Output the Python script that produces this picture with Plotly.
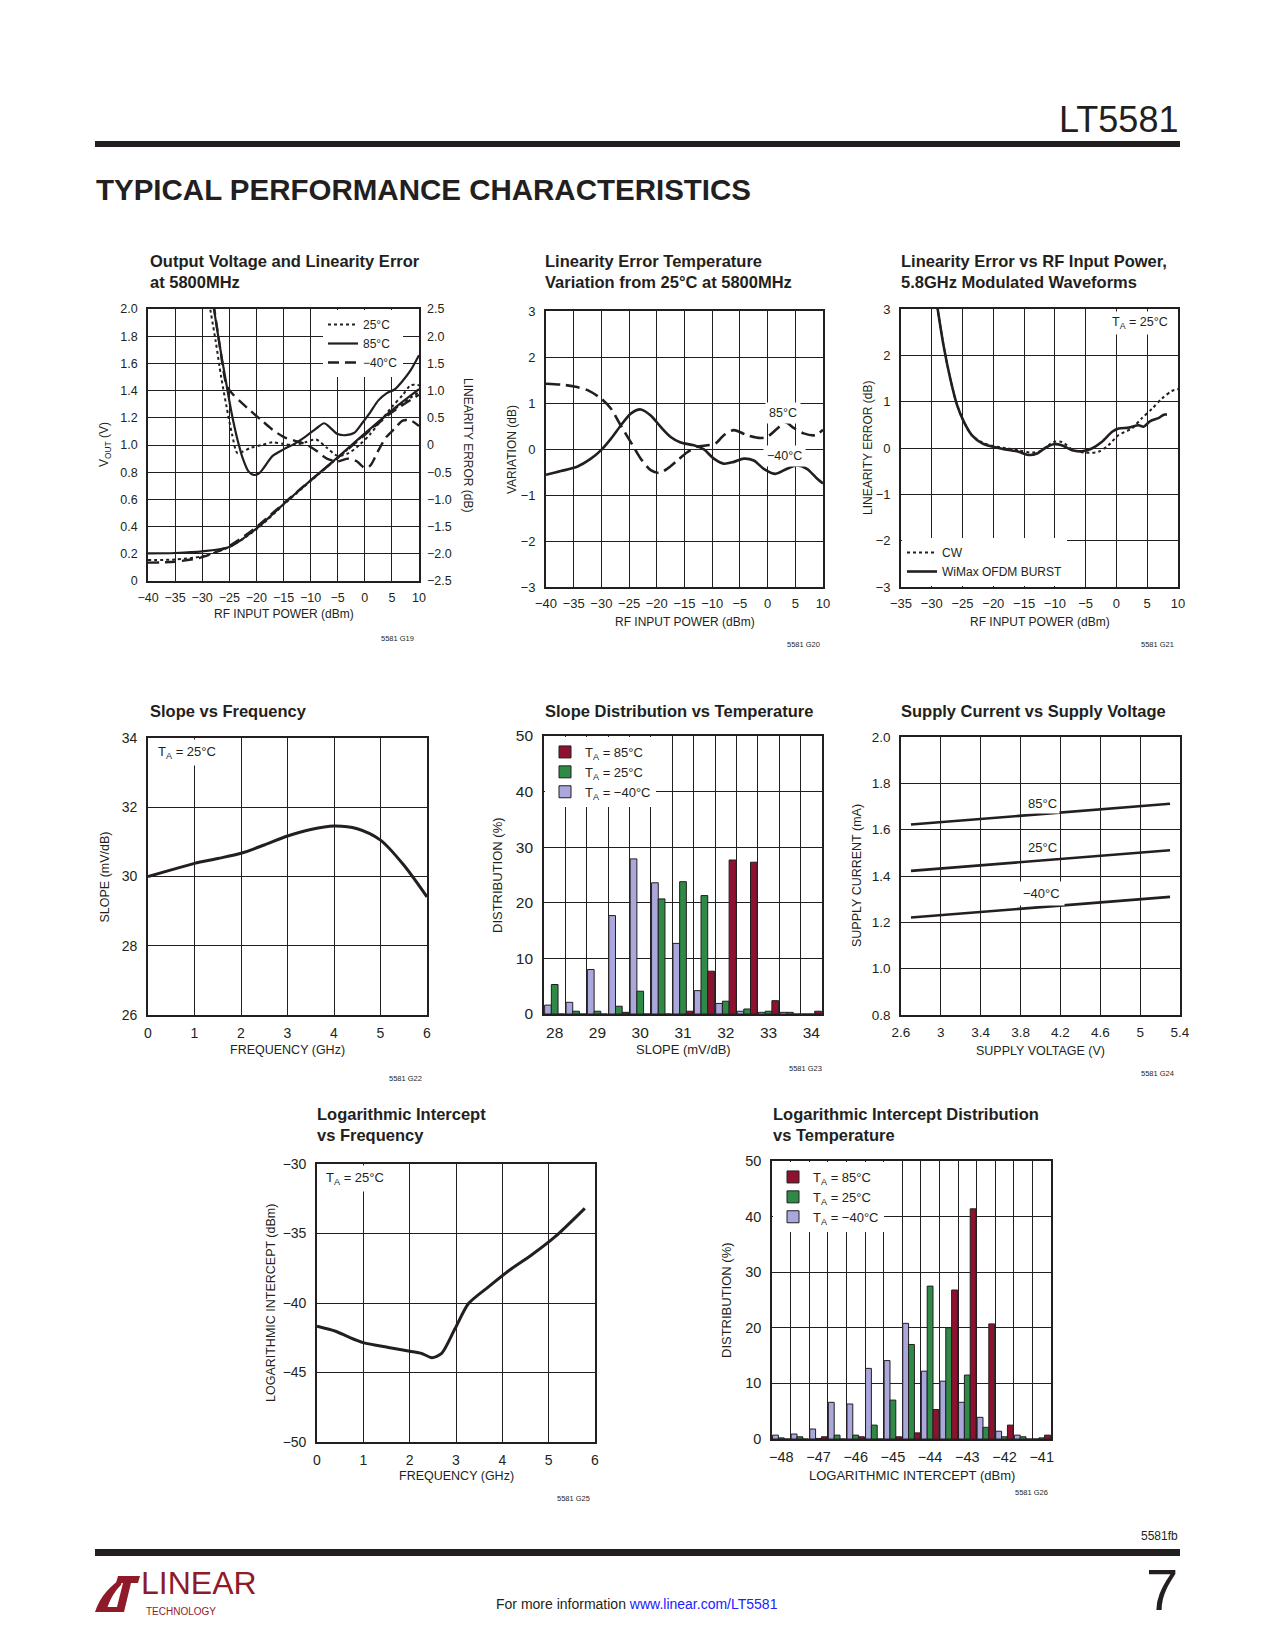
import plotly.graph_objects as go

W, H = 1275, 1650
OFF = 8  # page body margin of the html page
FONT = "'Liberation Sans', Arial, Helvetica, sans-serif"
INK = "#231f20"
RED = "#8e1230"
GREEN = "#2f8a47"
LAV = "#aaa7dc"
LINK = "#2020ff"

# ---------------- G19: Output Voltage and Linearity Error ----------------
g19_pin = [-40, -35, -30, -25, -20, -15, -10, -5, 0, 5, 10]
g19_vout_25 = [0.155, 0.158, 0.182, 0.25, 0.38, 0.56, 0.735, 0.905, 1.08, 1.25, 1.39]
g19_vout_85 = [0.203, 0.206, 0.218, 0.25, 0.385, 0.565, 0.74, 0.91, 1.085, 1.255, 1.41]
g19_vout_m40 = [0.135, 0.142, 0.175, 0.258, 0.397, 0.57, 0.74, 0.905, 1.075, 1.24, 1.37]

g19_err85_pin = [-28.0, -26.8, -25.5, -24.5, -23.5, -22.5, -21.5, -20.5, -19.5, -18.5, -17, -15, -13, -11, -9, -7.5, -6.5, -5, -3.5, -2, -0.5, 1, 2.5, 4, 5.5, 7, 8.5, 10]
g19_err85 = [2.6, 1.85, 1.1, 0.55, 0.1, -0.25, -0.48, -0.55, -0.52, -0.4, -0.2, -0.08, 0.02, 0.15, 0.3, 0.4, 0.33, 0.2, 0.18, 0.22, 0.4, 0.6, 0.82, 0.95, 1.02, 1.18, 1.38, 1.65]
g19_err25_pin = [-28.7, -27.5, -26.5, -25.5, -24.5, -23.5, -22.5, -21, -19, -17, -15, -13, -11, -9, -7, -5, -3, -1, 1, 3, 5, 7, 8.5, 10]
g19_err25 = [2.6, 1.9, 1.25, 0.7, 0.2, -0.15, -0.12, -0.05, 0.0, 0.05, 0.02, 0.0, 0.05, 0.1, -0.05, -0.2, -0.15, 0.0, 0.2, 0.45, 0.7, 0.92, 1.1, 1.1]
g19_errm40_pin = [-27.9, -26.8, -25.5, -24.5, -23, -21, -19, -17, -15, -13, -11, -9, -7, -5, -3, -1.5, 0, 1, 2.5, 4, 5.5, 7, 8.5, 10]
g19_errm40 = [2.6, 1.85, 1.1, 0.95, 0.8, 0.62, 0.45, 0.28, 0.15, 0.08, 0.02, -0.1, -0.25, -0.3, -0.25, -0.3, -0.42, -0.38, -0.1, 0.15, 0.3, 0.45, 0.45, 0.35]
g19_left_ticks = [0, 0.2, 0.4, 0.6, 0.8, 1.0, 1.2, 1.4, 1.6, 1.8, 2.0]
g19_left_text = ["0", "0.2", "0.4", "0.6", "0.8", "1.0", "1.2", "1.4", "1.6", "1.8", "2.0"]
g19_right_ticks = [-2.5, -2.0, -1.5, -1.0, -0.5, 0, 0.5, 1.0, 1.5, 2.0, 2.5]
g19_right_text = ["\u22122.5", "\u22122.0", "\u22121.5", "\u22121.0", "\u22120.5", "0", "0.5", "1.0", "1.5", "2.0", "2.5"]

# ---------------- G20: Linearity Error Temperature Variation ----------------
g20_a_pin = [-40, -37.3, -34.9, -32.5, -30.1, -28.3, -26.5, -24.7, -22.9, -21.1, -19.6, -18.1, -16.3, -14.5, -12.7, -10.9, -9.4, -7.9, -6.1, -3.7, -1.3, 0, 1.7, 3.2, 4.7, 6.5, 8.6, 10]
g20_a_var = [1.42, 1.40, 1.36, 1.28, 1.10, 0.88, 0.51, 0.15, -0.21, -0.46, -0.52, -0.43, -0.25, -0.07, 0.05, 0.08, 0.12, 0.30, 0.41, 0.30, 0.24, 0.27, 0.44, 0.58, 0.46, 0.34, 0.30, 0.42]
g20_b_pin = [-40, -37.3, -34.3, -31.9, -30.1, -28.3, -26.5, -24.7, -22.9, -21.1, -19.3, -17.5, -15.7, -13.3, -11.5, -9.7, -7.9, -6.1, -4.3, -2.5, -0.7, 1.4, 3.5, 5.3, 7.1, 8.9, 10]
g20_b_var = [-0.56, -0.48, -0.38, -0.21, -0.03, 0.22, 0.51, 0.77, 0.86, 0.73, 0.48, 0.26, 0.14, 0.08, -0.01, -0.21, -0.32, -0.28, -0.21, -0.25, -0.43, -0.54, -0.43, -0.36, -0.43, -0.64, -0.75]

# ---------------- G21: Linearity Error vs RF Input Power ----------------
g21_ofdm_pin = [-29.1, -28.1, -27.0, -25.9, -24.8, -23.5, -21.8, -20.2, -18.1, -15.9, -14.3, -12.9, -11.6, -10.2, -8.9, -7.2, -5.6, -4.0, -2.4, -0.7, 0.35, 2.0, 3.6, 4.4, 5.5, 6.9, 7.7, 8.2]
g21_ofdm = [3.05, 2.22, 1.50, 0.93, 0.57, 0.28, 0.10, 0.03, -0.03, -0.08, -0.15, -0.12, 0.0, 0.08, 0.06, -0.05, -0.07, -0.01, 0.13, 0.35, 0.42, 0.44, 0.49, 0.46, 0.58, 0.65, 0.72, 0.72]
g21_cw_pin = [-29.1, -28.1, -27.0, -25.9, -24.8, -23.5, -21.8, -20.2, -18.1, -15.9, -13.7, -12.1, -10.2, -8.85, -7.2, -5.1, -2.9, -1.3, 0.35, 2.5, 4.1, 5.8, 7.4, 9.0, 10.0]
g21_cw = [3.05, 2.22, 1.50, 0.93, 0.57, 0.28, 0.12, 0.05, 0.0, -0.05, -0.10, -0.05, 0.13, 0.13, -0.03, -0.10, -0.08, 0.06, 0.28, 0.42, 0.64, 0.85, 1.07, 1.23, 1.27]

# ---------------- G22: Slope vs Frequency ----------------
g22_freq = [0, 0.5, 1.0, 1.5, 2.0, 2.5, 3.0, 3.5, 4.0, 4.5, 5.0, 5.5, 6.0]
g22_slope = [30.0, 30.19, 30.38, 30.52, 30.67, 30.91, 31.17, 31.36, 31.46, 31.38, 31.05, 30.33, 29.41]

# ---------------- G23: Slope Distribution vs Temperature ----------------
g23_slope = [28.0, 28.5, 29.0, 29.5, 30.0, 30.5, 31.0, 31.5, 32.0, 32.5, 33.0, 33.5, 34.0]
g23_m40 = [1.6, 2.1, 8.0, 17.7, 27.9, 23.6, 12.7, 4.2, 1.9, 0.5, 0.3, 0.3, 0]
g23_25 = [5.3, 0.5, 0.5, 1.4, 4.1, 20.7, 23.8, 21.3, 2.3, 0.9, 0.5, 0.3, 0]
g23_85 = [0, 0, 0, 0.3, 0, 0, 0.5, 7.7, 27.7, 27.3, 2.4, 0, 0.5]

# ---------------- G24: Supply Current vs Supply Voltage ----------------
g24_v = [2.7, 3.0, 3.4, 3.8, 4.2, 4.6, 5.0, 5.3]
g24_85 = [1.622, 1.632, 1.646, 1.660, 1.673, 1.687, 1.700, 1.712]
g24_25 = [1.422, 1.432, 1.446, 1.460, 1.473, 1.487, 1.500, 1.511]
g24_m40 = [1.221, 1.231, 1.245, 1.259, 1.272, 1.286, 1.299, 1.310]

# ---------------- G25: Logarithmic Intercept vs Frequency ----------------
g25_freq = [0, 0.4, 0.68, 1.0, 1.54, 2.0, 2.26, 2.48, 2.69, 2.98, 3.27, 3.7, 4.13, 4.63, 5.14, 5.78]
g25_int = [-41.67, -42.03, -42.44, -42.85, -43.2, -43.47, -43.63, -43.93, -43.63, -41.84, -40.04, -38.84, -37.7, -36.55, -35.23, -33.19]

# ---------------- G26: Logarithmic Intercept Distribution ----------------
g26_int = [-48, -47.5, -47, -46.5, -46, -45.5, -45, -44.5, -44, -43.5, -43, -42.5, -42, -41.5, -41]
g26_m40 = [0.7, 0.9, 1.8, 6.6, 6.3, 12.7, 14.1, 20.8, 12.2, 10.4, 6.6, 3.9, 1.4, 0.7, 0]
g26_25 = [0.2, 0.4, 0.1, 0.7, 0.7, 2.5, 7.0, 17.0, 27.5, 20.0, 11.5, 2.1, 0.4, 0.4, 0.2]
g26_85 = [0, 0, 0.4, 0, 0.4, 0, 0.4, 1.1, 5.3, 26.8, 41.4, 20.7, 2.5, 0, 0.7]


def px_x(v):
    return (v - OFF) / W


def px_y(v):
    return 1 - (v - OFF) / H


# plot-area boxes in page pixels: (left, right, top, bottom)
BOX = {
    1: (148, 419, 309, 581),
    2: (546, 823, 311, 587),
    3: (901, 1178, 309, 587),
    4: (148, 427, 738, 1015),
    5: (544, 822, 736, 1014),
    6: (901, 1180, 737, 1015),
    7: (317, 595, 1164, 1442),
    8: (772, 1051, 1161, 1439),
}


def ax_names(n):
    return ("x" if n == 1 else f"x{n}"), ("y" if n == 1 else f"y{n}")


def base_axis(**kw):
    d = dict(showline=True, linecolor=INK, linewidth=1.6, mirror=True,
             showgrid=True, gridcolor=INK, gridwidth=1, zeroline=False,
             ticks="", ticklabelstandoff=4, fixedrange=True, automargin=False,
             tickangle=0, tickfont=dict(size=12, color=INK))
    d.update(kw)
    return d


fig = go.Figure()
layout = dict(width=W, height=H, margin=dict(l=0, r=0, t=0, b=0, pad=0, autoexpand=False),
              paper_bgcolor="white", plot_bgcolor="white",
              font=dict(family=FONT, color=INK, size=12),
              barmode="group", bargap=0.06, bargroupgap=0.0,
              showlegend=True)

axis_specs = {
    1: dict(x=dict(range=[-40, 10], dtick=5, tick0=-40), y=dict(range=[0, 2.0], tickvals=g19_left_ticks, ticktext=g19_left_text), ts=12.5),
    2: dict(x=dict(range=[-40, 10], dtick=5, tick0=-40), y=dict(range=[-3, 3], dtick=1), ts=13),
    3: dict(x=dict(range=[-35, 10], dtick=5, tick0=-35), y=dict(range=[-3, 3], dtick=1), ts=13),
    4: dict(x=dict(range=[0, 6], dtick=1), y=dict(range=[26, 34], dtick=2), ts=14),
    5: dict(x=dict(range=[27.75, 34.25], tickvals=[28, 29, 30, 31, 32, 33, 34], showgrid=False,
                   minor=dict(tick0=27.75, dtick=0.5, showgrid=True, gridcolor=INK, gridwidth=1, ticks="")),
            y=dict(range=[0, 50], dtick=10), ts=15.5),
    6: dict(x=dict(range=[2.6, 5.4], dtick=0.4, tick0=2.6), y=dict(range=[0.8, 2.0], dtick=0.2, tickformat=".1f"), ts=13.5),
    7: dict(x=dict(range=[0, 6], dtick=1), y=dict(range=[-50, -30], dtick=5), ts=14),
    8: dict(x=dict(range=[-48.25, -40.75], tickvals=[-48, -47, -46, -45, -44, -43, -42, -41], showgrid=False,
                   minor=dict(tick0=-47.75, dtick=0.5, showgrid=True, gridcolor=INK, gridwidth=1, ticks="")),
            y=dict(range=[0, 50], dtick=10), ts=14.5),
}

for n, spec in axis_specs.items():
    l, r, t, b = BOX[n]
    xn, yn = ax_names(n)
    ts = spec["ts"]
    layout["xaxis" if n == 1 else f"xaxis{n}"] = base_axis(
        domain=[px_x(l), px_x(r)], anchor=yn, tickfont=dict(size=ts, color=INK), **spec["x"])
    layout["yaxis" if n == 1 else f"yaxis{n}"] = base_axis(
        domain=[px_y(b), px_y(t)], anchor=xn, tickfont=dict(size=ts, color=INK), ticklabelstandoff=6, **spec["y"])

# right axis for linearity error on chart 1
layout["yaxis9"] = dict(overlaying="y", side="right", anchor="x", range=[-2.5, 2.5],
                        tickvals=g19_right_ticks, ticktext=g19_right_text, showgrid=False,
                        showline=False, zeroline=False, ticks="", ticklabelstandoff=7, automargin=False,
                        fixedrange=True, tickfont=dict(size=12.5, color=INK))

DOT = dict(color=INK, width=2, dash="dot")
SOLID = dict(color=INK, width=2.2)
DASH = dict(color=INK, width=2.4, dash="11px,6px")

# ---- chart 1 traces
fig.add_trace(go.Scatter(x=g19_pin, y=g19_vout_25, mode="lines", name="25\u00b0C", line=dict(shape="spline", smoothing=0.8, **DOT),
                         xaxis="x", yaxis="y", legend="legend", legendrank=1))
fig.add_trace(go.Scatter(x=g19_pin, y=g19_vout_85, mode="lines", name="85\u00b0C", line=dict(shape="spline", smoothing=0.8, **SOLID),
                         xaxis="x", yaxis="y", legend="legend", legendrank=2))
fig.add_trace(go.Scatter(x=g19_pin, y=g19_vout_m40, mode="lines", name="\u221240\u00b0C", line=dict(shape="spline", smoothing=0.8, **DASH),
                         xaxis="x", yaxis="y", legend="legend", legendrank=3))
fig.add_trace(go.Scatter(x=g19_err25_pin, y=g19_err25, mode="lines", showlegend=False, line=dict(shape="spline", smoothing=0.8, **DOT),
                         xaxis="x", yaxis="y9"))
fig.add_trace(go.Scatter(x=g19_err85_pin, y=g19_err85, mode="lines", showlegend=False, line=dict(shape="spline", smoothing=0.8, **SOLID),
                         xaxis="x", yaxis="y9"))
fig.add_trace(go.Scatter(x=g19_errm40_pin, y=g19_errm40, mode="lines", showlegend=False, line=dict(shape="spline", smoothing=0.8, **DASH),
                         xaxis="x", yaxis="y9"))

# ---- chart 2
fig.add_trace(go.Scatter(x=g20_a_pin, y=g20_a_var, mode="lines", showlegend=False,
                         line=dict(shape="spline", smoothing=0.8, color=INK, width=2.6, dash="14px,6px"), xaxis="x2", yaxis="y2"))
fig.add_trace(go.Scatter(x=g20_b_pin, y=g20_b_var, mode="lines", showlegend=False,
                         line=dict(shape="spline", smoothing=0.8, color=INK, width=2.6), xaxis="x2", yaxis="y2"))

# ---- chart 3
fig.add_trace(go.Scatter(x=g21_cw_pin, y=g21_cw, mode="lines", name="CW", legend="legend3",
                         line=dict(shape="spline", smoothing=0.8, color=INK, width=2, dash="dot"), xaxis="x3", yaxis="y3"))
fig.add_trace(go.Scatter(x=g21_ofdm_pin, y=g21_ofdm, mode="lines", name="WiMax OFDM BURST", legend="legend3",
                         line=dict(shape="spline", smoothing=0.8, color=INK, width=2.6), xaxis="x3", yaxis="y3"))

# ---- chart 4
fig.add_trace(go.Scatter(x=g22_freq, y=g22_slope, mode="lines", showlegend=False,
                         line=dict(shape="spline", smoothing=0.8, color=INK, width=3), xaxis="x4", yaxis="y4"))

# ---- chart 5 (bars)
for vals, col, nm in [(g23_m40, LAV, "T<sub>A</sub> = \u221240\u00b0C"), (g23_25, GREEN, "T<sub>A</sub> = 25\u00b0C"), (g23_85, RED, "T<sub>A</sub> = 85\u00b0C")]:
    fig.add_trace(go.Bar(x=g23_slope, y=vals, name=nm, legend="legend5", marker=dict(color=col, line=dict(color=INK, width=1)),
                         xaxis="x5", yaxis="y5"))

# ---- chart 6
for vals in [g24_85, g24_25, g24_m40]:
    fig.add_trace(go.Scatter(x=g24_v, y=vals, mode="lines", showlegend=False,
                             line=dict(color=INK, width=2.6), xaxis="x6", yaxis="y6"))

# ---- chart 7
fig.add_trace(go.Scatter(x=g25_freq, y=g25_int, mode="lines", showlegend=False,
                         line=dict(shape="spline", smoothing=0.7, color=INK, width=3), xaxis="x7", yaxis="y7"))

# ---- chart 8 (bars)
for vals, col, nm in [(g26_m40, LAV, "T<sub>A</sub> = \u221240\u00b0C"), (g26_25, GREEN, "T<sub>A</sub> = 25\u00b0C"), (g26_85, RED, "T<sub>A</sub> = 85\u00b0C")]:
    fig.add_trace(go.Bar(x=g26_int, y=vals, name=nm, legend="legend8", marker=dict(color=col, line=dict(color=INK, width=1)),
                         xaxis="x8", yaxis="y8"))

# ---- legends
LEG = dict(bgcolor="white", borderwidth=0, xanchor="left", tracegroupgap=0, itemclick=False, itemdoubleclick=False)
layout["legend"] = dict(LEG, x=px_x(323), y=px_y(310), yanchor="top", font=dict(size=12, color=INK), itemwidth=30)
layout["legend3"] = dict(LEG, x=px_x(902), y=px_y(586), yanchor="bottom", font=dict(size=12, color=INK), itemwidth=30)
layout["legend5"] = dict(LEG, x=px_x(545), y=px_y(737), yanchor="top", font=dict(size=13, color=INK), itemwidth=30, traceorder="reversed")
layout["legend8"] = dict(LEG, x=px_x(773), y=px_y(1162), yanchor="top", font=dict(size=13, color=INK), itemwidth=30, traceorder="reversed")

ann = []


def text(x, y, s, size=12, xanchor="center", yanchor="middle", angle=0, bg=None, bold=False, color=INK, **kw):
    d = dict(x=px_x(x), y=px_y(y), xref="paper", yref="paper", text=(f"<b>{s}</b>" if bold else s),
             showarrow=False, xanchor=xanchor, yanchor=yanchor, textangle=angle,
             font=dict(size=size, color=color, family=kw.pop("family", FONT)))
    if bg:
        d.update(bgcolor=bg, borderpad=kw.pop("pad", 2))
    d.update(kw)
    ann.append(d)


# chart titles
TS = 16.5
text(148, 271.5, "Output Voltage and Linearity Error<br>at 5800MHz", TS, "left", bold=True, align="left")
text(543, 271.5, "Linearity Error Temperature<br>Variation from 25\u00b0C at 5800MHz", TS, "left", bold=True, align="left")
text(899, 271.5, "Linearity Error vs RF Input Power,<br>5.8GHz Modulated Waveforms", TS, "left", bold=True, align="left")
text(148, 711, "Slope vs Frequency", TS, "left", bold=True)
text(543, 711, "Slope Distribution vs Temperature", TS, "left", bold=True)
text(899, 711, "Supply Current vs Supply Voltage", TS, "left", bold=True)
text(315, 1124.5, "Logarithmic Intercept<br>vs Frequency", TS, "left", bold=True, align="left")
text(771, 1124.5, "Logarithmic Intercept Distribution<br>vs Temperature", TS, "left", bold=True, align="left")

# axis titles
AT = 12
text(105, 445, "V<sub>OUT</sub> (V)", AT, angle=-90)
text(468, 445, "LINEARITY ERROR (dB)", AT, angle=90)
text(283.5, 614, "RF INPUT POWER (dBm)", AT)
text(512, 449, "VARIATION (dB)", AT, angle=-90)
text(684.5, 622, "RF INPUT POWER (dBm)", AT)
text(868, 448, "LINEARITY ERROR (dB)", AT, angle=-90)
text(1039.5, 622, "RF INPUT POWER (dBm)", AT)
text(104, 876.5, "SLOPE (mV/dB)", 12.5, angle=-90)
text(287.5, 1050, "FREQUENCY (GHz)", 12.5)
text(497, 875, "DISTRIBUTION (%)", 13, angle=-90)
text(683, 1049, "SLOPE (mV/dB)", 13)
text(857, 876, "SUPPLY CURRENT (mA)", 12.5, angle=-90)
text(1040.5, 1051, "SUPPLY VOLTAGE (V)", 12.5)
text(271, 1303, "LOGARITHMIC INTERCEPT (dBm)", 12.5, angle=-90)
text(456, 1476, "FREQUENCY (GHz)", 12.5)
text(726, 1300, "DISTRIBUTION (%)", 13, angle=-90)
text(911.5, 1475, "LOGARITHMIC INTERCEPT (dBm)", 13)

# in-plot labels
text(1172, 323, "T<sub>A</sub> = 25\u00b0C", 12.5, "right", bg="white", pad=3)
text(153, 752, "T<sub>A</sub> = 25\u00b0C", 13, "left", bg="white", pad=4)
text(321, 1178, "T<sub>A</sub> = 25\u00b0C", 13, "left", bg="white", pad=4)
text(783, 413, "85\u00b0C", 12.5, bg="white", pad=3)
text(784, 456, "\u221240\u00b0C", 12.5, bg="white", pad=3)
text(1042, 803, "85\u00b0C", 13, bg="white", pad=2)
text(1042, 847, "25\u00b0C", 13, bg="white", pad=2)
text(1041, 893, "\u221240\u00b0C", 13, bg="white", pad=4)

# figure ids
for (x, y, s) in [(397, 638, "5581 G19"), (803, 644, "5581 G20"), (1157, 644, "5581 G21"),
                  (405, 1078, "5581 G22"), (805, 1068, "5581 G23"), (1157, 1073, "5581 G24"),
                  (573, 1498, "5581 G25"), (1031, 1492, "5581 G26")]:
    text(x, y, s, 7.5)

# page header / footer
text(1180, 120, "LT5581", 36, "right")
text(94, 189, "TYPICAL PERFORMANCE CHARACTERISTICS", 29.5, "left", bold=True)
text(1180, 1536, "5581fb", 12, "right")
text(1180, 1589, "7", 58, "right")
text(637, 1604, "For more information <span style='color:%s'>www.linear.com/LT5581</span>" % LINK, 14)
text(139, 1603, "LINEAR", 32, "left", yanchor="bottom", color="#8f1b2a")
text(144, 1604, "TECHNOLOGY", 10, "left", yanchor="top", color="#8f1b2a")

layout["annotations"] = ann


def pp(x, y):
    return f"{px_x(x):.5f},{px_y(y):.5f}"


shapes = [
    dict(type="rect", xref="paper", yref="paper", x0=px_x(95), x1=px_x(1180), y0=px_y(147), y1=px_y(141),
         fillcolor=INK, line=dict(width=0)),
    dict(type="rect", xref="paper", yref="paper", x0=px_x(95), x1=px_x(1180), y0=px_y(1556), y1=px_y(1549),
         fillcolor=INK, line=dict(width=0)),
    # LT logo mark
    dict(type="path", xref="paper", yref="paper",
         path="M " + pp(95, 1612) + " L " + pp(106, 1612) + " C " + pp(110, 1598) + " " + pp(116, 1590) + " " + pp(121, 1585)
              + " L " + pp(123, 1578) + " C " + pp(112, 1584) + " " + pp(100, 1596) + " " + pp(95, 1612) + " Z",
         fillcolor="#8f1b2a", line=dict(width=0)),
    dict(type="path", xref="paper", yref="paper",
         path="M " + pp(118, 1576) + " L " + pp(140, 1576) + " L " + pp(138, 1583) + " L " + pp(131, 1583)
              + " L " + pp(124, 1612) + " L " + pp(104, 1612) + " L " + pp(107, 1607) + " L " + pp(117, 1607)
              + " L " + pp(123, 1583) + " L " + pp(116, 1583) + " Z",
         fillcolor="#8f1b2a", line=dict(width=0)),
]
layout["shapes"] = shapes

fig.update_layout(**layout)
fig.write_html("out.html")
